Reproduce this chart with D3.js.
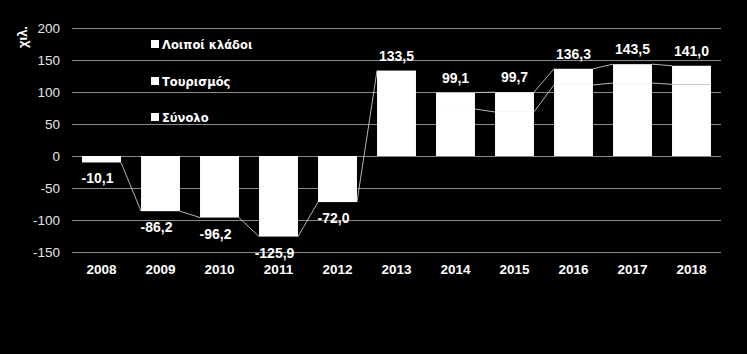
<!DOCTYPE html>
<html lang="el">
<head>
<meta charset="UTF-8">
<title>Chart</title>
<script src="https://d3js.org/d3.v7.min.js"></script>
<style>
  body { margin: 0; background: #000; }
  .chart text { font-family: "Liberation Sans", Arial, sans-serif; }
  .chart .legend text { font-family: "DejaVu Sans", sans-serif; }
</style>
</head>
<body>
<div class="chart"></div>
<script>
// data (χιλ.)
const years = ['2008','2009','2010','2011','2012','2013','2014','2015','2016','2017','2018'];
const synolo    = [-10.1, -86.2, -96.2, -125.9, -72.0, 133.5, null, null, null, null, null];
const tourismos = [null, null, null, null, null, null, 73.4, 68.8, 111.0, 114.0, 112.0];
const loipoi    = [null, null, null, null, null, null, 25.7, 30.9, 25.3, 29.5, 29.0];
const totals    = [-10.1, -86.2, -96.2, -125.9, -72.0, 133.5, 99.1, 99.7, 136.3, 143.5, 141.0];
const yTicks    = [-150, -100, -50, 0, 50, 100, 150, 200];
const legendNames = ['Λοιποί κλάδοι', 'Τουρισμός', 'Σύνολο'];

const width = 747, height = 354;
const svg = d3.select('.chart').append('svg')
  .attr('width', width).attr('height', height)
  .style('background', '#000');

const x = d3.scaleBand().domain(years).range([72, 721]).paddingInner(0.34).paddingOuter(0.17);
const y = d3.scaleLinear().domain([-150, 200]).range([252, 28]);

// gridlines + y axis labels
const yAxis = d3.axisLeft(y).tickValues(yTicks).tickSize(-(721 - 72)).tickFormat(d => String(d));
const yg = svg.append('g').attr('transform', 'translate(72,0)').call(yAxis);
yg.select('.domain').remove();
yg.selectAll('line').attr('stroke', '#8a8a8a').attr('stroke-width', 1);
yg.selectAll('text').attr('x', -12).attr('fill', '#e6e6e6').style('font-size', '13.5px');

// x axis labels
const xg = svg.append('g').attr('transform', 'translate(0,252)')
  .call(d3.axisBottom(x).tickSize(0).tickPadding(12));
xg.select('.domain').remove();
xg.selectAll('text').attr('fill', '#fff').style('font-size', '13.5px').style('font-weight', 'bold');

// y title
svg.append('text')
  .attr('transform', 'translate(27,37) rotate(-90)')
  .attr('text-anchor', 'middle')
  .attr('fill', '#fff').style('font-size', '13px').style('font-weight', 'bold')
  .text('χιλ.');

// stacked bars
const rows = years.map((yr, i) => ({ year: yr, synolo: synolo[i] || 0, tourismos: tourismos[i] || 0, loipoi: loipoi[i] || 0 }));
const raw = { synolo, tourismos, loipoi };
const keys = ['synolo', 'tourismos', 'loipoi'];
const stack = d3.stack().keys(keys).offset(d3.stackOffsetDiverging)(rows);

// series lines (skip missing values)
const linesG = svg.append('g');
stack.forEach(s => {
  const vals = raw[s.key];
  for (let i = 0; i < years.length - 1; i++) {
    if (vals[i] == null || vals[i + 1] == null) continue;
    const end = (d, v) => v < 0 ? d[0] : d[1];
    linesG.append('line')
      .attr('x1', x(years[i]) + x.bandwidth())
      .attr('y1', y(end(s[i], vals[i])))
      .attr('x2', x(years[i + 1]))
      .attr('y2', y(end(s[i + 1], vals[i + 1])))
      .attr('stroke', '#c8c8c8').attr('stroke-width', 0.9);
  }
});

svg.append('g').selectAll('g').data(stack).join('g')
  .selectAll('rect').data(d => d).join('rect')
  .attr('x', d => x(d.data.year))
  .attr('width', x.bandwidth())
  .attr('y', d => y(Math.max(d[0], d[1])))
  .attr('height', d => y(Math.min(d[0], d[1])) - y(Math.max(d[0], d[1])))
  .attr('fill', '#fff');

// total labels
svg.append('g').selectAll('text').data(totals).join('text')
  .attr('x', (d, i) => x(years[i]) + x.bandwidth() / 2 + (d < 0 ? -4 : 0))
  .attr('y', d => d < 0 ? y(d) + 21 : y(d) - 10)
  .attr('text-anchor', 'middle')
  .attr('fill', '#fff').style('font-size', '14px').style('font-weight', 'bold')
  .text(d => d.toFixed(1).replace('.', ','));

// legend
const lg = svg.append('g').attr('class', 'legend').selectAll('g').data(legendNames).join('g')
  .attr('transform', (d, i) => `translate(151,${[44, 81, 117][i]})`);
lg.append('rect').attr('x', 0).attr('y', -4).attr('width', 8).attr('height', 8).attr('fill', '#fff');
lg.append('text').attr('x', 11).attr('y', 5)
  .attr('fill', '#fff').style('font-size', '11.5px').style('font-weight', 'bold')
  .text(d => d);
</script>
</body>
</html>
